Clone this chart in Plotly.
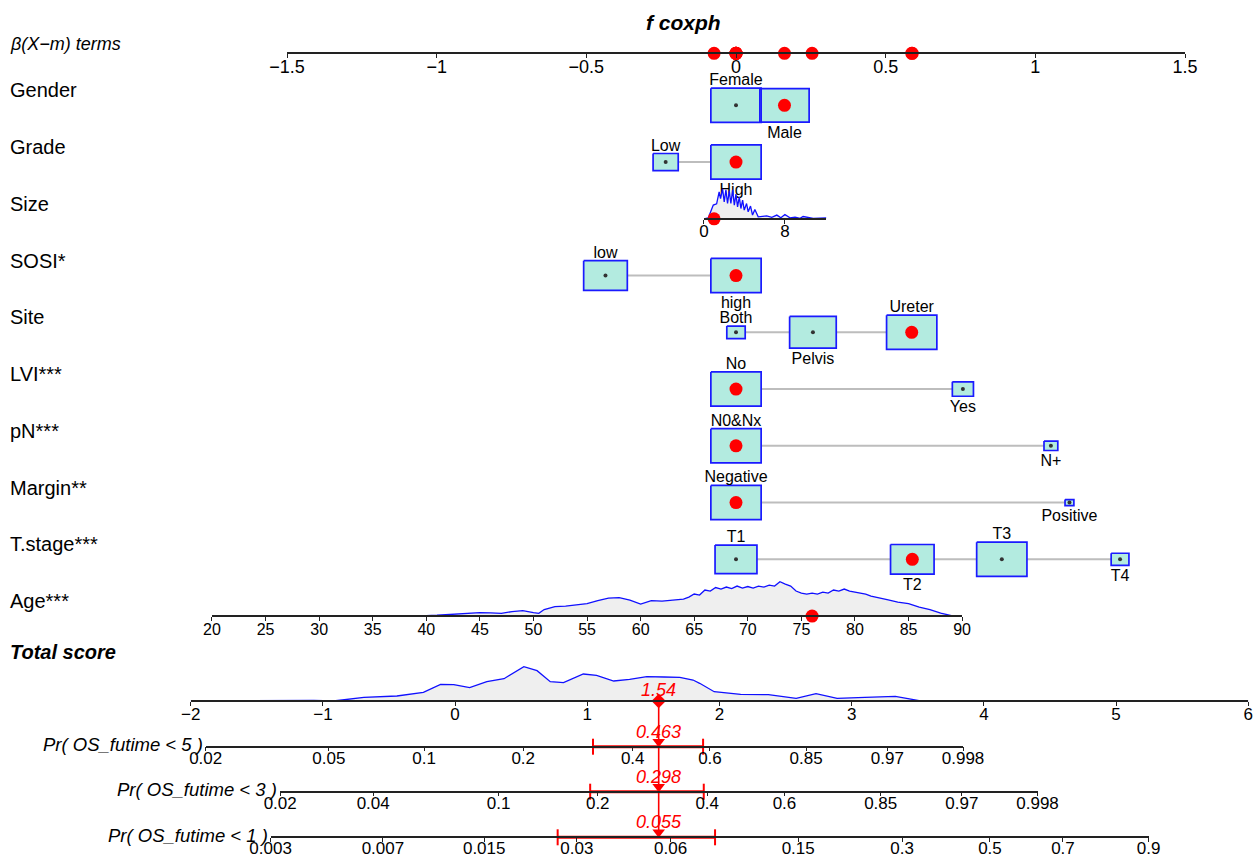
import numpy as np
import plotly.graph_objects as go

W, H = 1255, 858
FONT = "Arial, 'Liberation Sans', Helvetica, sans-serif"

# ---------------- data ----------------
beta_ticks = [-1.5, -1.0, -0.5, 0.0, 0.5, 1.0, 1.5]
beta_ticktext = ["\u22121.5", "\u22121", "\u22120.5", "0", "0.5", "1", "1.5"]

row_labels = ["Gender", "Grade", "Size", "SOSI*", "Site", "LVI***", "pN***",
              "Margin**", "T.stage***", "Age***"]

gender_levels = ["Female", "Male"]
gender_beta = [0.0, 0.162]
gender_freq = [51, 49]
gender_sel = 1

grade_levels = ["Low", "High"]
grade_beta = [-0.235, 0.0]
grade_freq = [20, 80]
grade_sel = 1

sosi_levels = ["low", "high"]
sosi_beta = [-0.436, 0.0]
sosi_freq = [43, 57]
sosi_sel = 1

site_levels = ["Both", "Pelvis", "Ureter"]
site_beta = [0.0, 0.257, 0.587]
site_freq = [6.7, 43, 50]
site_sel = 2

lvi_levels = ["No", "Yes"]
lvi_beta = [0.0, 0.758]
lvi_freq = [85, 15]
lvi_sel = 0

pn_levels = ["N0&Nx", "N+"]
pn_beta = [0.0, 1.052]
pn_freq = [93, 7]
pn_sel = 0

margin_levels = ["Negative", "Positive"]
margin_beta = [0.0, 1.114]
margin_freq = [97, 3]
margin_sel = 0

t_levels = ["T1", "T2", "T3", "T4"]
t_beta = [0.0, 0.589, 0.888, 1.283]
t_freq = [25, 27, 36, 4.5]
t_sel = 1

# Size (continuous)
size_ticks = [0, 8]
size_beta_at_zero = -0.107
size_beta_coef = 0.0338
size_max = 12.1
size_value = 1.0
size_dens_x = [0, 0.43, 0.92, 1.25, 1.5, 1.64, 1.84, 2.0, 2.17, 2.33, 2.5, 2.66, 2.83, 3.0,
               3.16, 3.32, 3.49, 3.65, 3.82, 3.98, 4.21, 4.37, 4.6, 4.8, 5.03, 5.36, 5.8,
               6.2, 6.7, 7.2, 7.6, 8.0, 8.5, 9.0, 9.5, 9.8, 10.8, 12.1]
size_dens_h = [0, 1, 13.7, 15, 27, 20.3, 30, 17, 29, 15.3, 28, 15.3, 29, 13.7,
               24.7, 12, 22, 10.3, 18.7, 8.7, 15.3, 7, 12.7, 3.7, 9.3, 2, 2.5,
               3, 1.5, 3.7, 1, 4.3, 1, 1.7, 0.5, 2.3, 0.5, 1]

# Age (continuous)
age_ticks = [20, 25, 30, 35, 40, 45, 50, 55, 60, 65, 70, 75, 80, 85, 90]
age_center = 68.9
age_beta_coef = 0.0358
age_value = 76
age_dens_x = [20, 22, 25, 28, 30, 35, 40, 41, 42, 43, 44, 45, 46, 47, 48, 49, 50, 50.5,
              51, 52, 53, 54, 55, 56, 57, 58, 59, 60, 61, 62, 63, 64, 64.5, 65, 65.5,
              66, 66.5, 67, 67.5, 68, 68.5, 69, 69.5, 70, 70.5, 71, 71.5, 72, 72.5, 73,
              73.5, 74, 74.5, 75, 75.5, 76, 76.5, 77, 77.5, 78, 78.5, 79, 79.5, 80, 80.5,
              81, 81.5, 82, 82.5, 83, 84, 85, 86, 87, 88, 89, 90]
age_dens_h = [0, 0.5, 0.3, 0.2, 0.5, 0.5, 0.5, 0.8, 1.5, 2.5, 3.3, 3.5, 3.2, 2.6, 4.5, 5.5, 3.5, 2.7,
              6.5, 9.5, 10, 11, 12.5, 15.5, 18, 18.5, 16, 12, 15.5, 15, 16, 17, 19, 22, 21,
              26, 25, 28.5, 27, 29, 27.5, 30, 28, 29.5, 28, 30, 29, 31, 30, 34.3,
              32, 30, 25, 23, 22, 23, 22, 24, 23, 26, 25, 27, 25, 24, 23,
              22, 20, 19, 17.5, 16.5, 14, 12.5, 9, 6.5, 3, 0.5, 0]

# Total score
score_ticks = [-2, -1, 0, 1, 2, 3, 4, 5, 6]
score_ticktext = ["\u22122", "\u22121", "0", "1", "2", "3", "4", "5", "6"]
total_score = 1.54
score_dens_x = [-2.0, -1.6, -1.25, -1.07, -0.92, -0.69, -0.44, -0.24, -0.11, -0.01, 0.11,
                0.24, 0.37, 0.52, 0.62, 0.72, 0.82, 0.97, 1.07, 1.20, 1.32, 1.45, 1.58, 1.70,
                1.80, 1.85, 1.96, 2.16, 2.37, 2.58, 2.73, 2.89, 3.10, 3.33, 3.51, 3.8, 4.13,
                4.4, 4.65, 5.2, 6.0]
score_dens_h = [0, 0.3, 1, 0.5, 0, 3.7, 5, 8.7, 16.7, 16.3, 13.3,
                19.3, 22.3, 34.3, 30.3, 19.3, 18.3, 27, 25.7, 20, 21.7, 24.3, 24, 23.7,
                21, 17.7, 9.3, 6.7, 6.3, 2.7, 7.3, 2.7, 3.7, 4.7, 0.3, 0.3, 0.7,
                0.3, 0, 0, 0]

# Probability scales
pr_labels = ["Pr( OS_futime < 5 )", "Pr( OS_futime < 3 )", "Pr( OS_futime < 1 )"]
pr_pred = [0.463, 0.298, 0.055]
pr_lo = [0.315, 0.190, 0.026]
pr_hi = [0.581, 0.392, 0.083]
pr5_ticks = [0.02, 0.05, 0.1, 0.2, 0.4, 0.6, 0.85, 0.97, 0.998]
pr3_ticks = [0.02, 0.04, 0.1, 0.2, 0.4, 0.6, 0.85, 0.97, 0.998]
pr1_ticks = [0.003, 0.007, 0.015, 0.03, 0.06, 0.15, 0.3, 0.5, 0.7, 0.9]

# ---------------- layout constants ----------------
BETA_PX = (287.0, 1185.0)
BETA_AXIS_Y = 53.3
ROW0_Y = 105.3
ROW_STEP = 56.75
SCORE_PX = (190.7, 1248.3)
SCORE_AXIS_Y = 701.0
PR_AXIS_Y = [746.7, 791.7, 837.3]
BOX_H = 34.2
BOX_ASPECT = 1.47
LABEL_GAP_ABOVE = 7
LABEL_GAP_BELOW = 11.5
BOX_FILL = "#b3ebe0"
BOX_LINE = "#1a1aff"
DENS_FILL = "#efefef"
DENS_LINE = "#1010ff"
RED = "#ff0000"
CLEAR = "rgba(0,0,0,0)"

PPB = (BETA_PX[1] - BETA_PX[0]) / (beta_ticks[-1] - beta_ticks[0])
PPS = (SCORE_PX[1] - SCORE_PX[0]) / (score_ticks[-1] - score_ticks[0])


def beta_px(b):
    return BETA_PX[0] + (b - beta_ticks[0]) * PPB


def score_px(s):
    return SCORE_PX[0] + (s - score_ticks[0]) * PPS


def row_y(i):
    return ROW0_Y + i * ROW_STEP


def size_beta(s):
    return size_beta_at_zero + size_beta_coef * s


def age_beta(a):
    return (a - age_center) * age_beta_coef


def axis(domain_px, rng, tickvals, ticktext, ypx, fs=16, standoff=-6):
    return dict(domain=[domain_px[0] / W, domain_px[1] / W], range=rng,
                anchor="free", position=1 - ypx / H, automargin=False,
                showline=True, linecolor="#222", linewidth=1.5,
                ticks="outside", ticklen=4, tickwidth=1.2, tickcolor="#222",
                ticklabelstandoff=standoff,
                tickvals=tickvals, ticktext=ticktext,
                tickfont=dict(family=FONT, size=fs, color="black"),
                showgrid=False, zeroline=False, fixedrange=True)


fig = go.Figure()

# ---------------- categorical rows ----------------
cat_rows = [
    (0, gender_levels, gender_beta, gender_freq, gender_sel),
    (1, grade_levels, grade_beta, grade_freq, grade_sel),
    (3, sosi_levels, sosi_beta, sosi_freq, sosi_sel),
    (4, site_levels, site_beta, site_freq, site_sel),
    (5, lvi_levels, lvi_beta, lvi_freq, lvi_sel),
    (6, pn_levels, pn_beta, pn_freq, pn_sel),
    (7, margin_levels, margin_beta, margin_freq, margin_sel),
    (8, t_levels, t_beta, t_freq, t_sel),
]
conn_x, conn_y = [], []
box_x, box_y = [], []
dot_x, dot_y = [], []
lab_x, lab_y, lab_t = [], [], []
sel_x, sel_y = [], []
contrib = []
for ri, levels, betas, freqs, sel in cat_rows:
    yc = row_y(ri)
    conn_x += [min(betas), max(betas), None]
    conn_y += [yc, yc, None]
    fmax = max(freqs)
    order = sorted(range(len(levels)), key=lambda i: betas[i])
    for k, i in enumerate(order):
        h = BOX_H * np.sqrt(freqs[i] / fmax)
        w = h * BOX_ASPECT / PPB
        b = betas[i]
        box_x += [b - w / 2, b + w / 2, b + w / 2, b - w / 2, b - w / 2, None]
        box_y += [yc - h / 2, yc - h / 2, yc + h / 2, yc + h / 2, yc - h / 2, None]
        dot_x.append(b)
        dot_y.append(yc)
        lab_x.append(b)
        lab_y.append(yc - h / 2 - LABEL_GAP_ABOVE if k % 2 == 0 else yc + h / 2 + LABEL_GAP_BELOW)
        lab_t.append(levels[i])
    sel_x.append(betas[sel])
    sel_y.append(yc)
    contrib.append(betas[sel])

fig.add_trace(go.Scatter(x=conn_x, y=conn_y, mode="lines", xaxis="x", yaxis="y",
                         line=dict(color="#bdbdbd", width=2), hoverinfo="skip"))
fig.add_trace(go.Scatter(x=box_x, y=box_y, mode="lines", fill="toself", fillcolor=BOX_FILL,
                         line=dict(color=BOX_LINE, width=1.7), xaxis="x", yaxis="y",
                         hoverinfo="skip"))
fig.add_trace(go.Scatter(x=dot_x, y=dot_y, mode="markers", xaxis="x", yaxis="y",
                         marker=dict(color="#333", size=4), hoverinfo="skip"))
fig.add_trace(go.Scatter(x=sel_x, y=sel_y, mode="markers", xaxis="x", yaxis="y",
                         marker=dict(color=RED, size=13), hoverinfo="skip"))
fig.add_trace(go.Scatter(x=lab_x, y=lab_y, mode="text", text=lab_t, xaxis="x", yaxis="y",
                         textposition="middle center", cliponaxis=False,
                         textfont=dict(family=FONT, size=16, color="black"), hoverinfo="skip"))

# ---------------- size row ----------------
ys = row_y(2)
fig.add_trace(go.Scatter(x=size_dens_x + size_dens_x[::-1],
                         y=[ys - v for v in size_dens_h] + [ys] * len(size_dens_x),
                         mode="none", fill="toself", fillcolor=DENS_FILL, xaxis="x2", yaxis="y",
                         hoverinfo="skip"))
fig.add_trace(go.Scatter(x=size_dens_x, y=[ys - v for v in size_dens_h], mode="lines",
                         line=dict(color=DENS_LINE, width=1.3), xaxis="x2", yaxis="y",
                         hoverinfo="skip"))
fig.add_trace(go.Scatter(x=[size_value], y=[ys], mode="markers", xaxis="x2", yaxis="y",
                         marker=dict(color=RED, size=13), cliponaxis=False, hoverinfo="skip"))
contrib.append(size_beta(size_value))

# ---------------- age row ----------------
ya = row_y(9)
fig.add_trace(go.Scatter(x=age_dens_x + age_dens_x[::-1],
                         y=[ya - v for v in age_dens_h] + [ya] * len(age_dens_x),
                         mode="none", fill="toself", fillcolor=DENS_FILL, xaxis="x3", yaxis="y",
                         hoverinfo="skip"))
fig.add_trace(go.Scatter(x=age_dens_x, y=[ya - v for v in age_dens_h], mode="lines",
                         line=dict(color=DENS_LINE, width=1.3), xaxis="x3", yaxis="y",
                         hoverinfo="skip"))
fig.add_trace(go.Scatter(x=[age_value], y=[ya], mode="markers", xaxis="x3", yaxis="y",
                         marker=dict(color=RED, size=13), cliponaxis=False, hoverinfo="skip"))
contrib.append(age_beta(age_value))

# ---------------- beta axis points ----------------
fig.add_trace(go.Scatter(x=contrib, y=[BETA_AXIS_Y] * len(contrib), mode="markers",
                         xaxis="x", yaxis="y", marker=dict(color=RED, size=13),
                         cliponaxis=False, hoverinfo="skip"))

# ---------------- total score ----------------
fig.add_trace(go.Scatter(x=score_dens_x + score_dens_x[::-1],
                         y=[SCORE_AXIS_Y - v for v in score_dens_h] + [SCORE_AXIS_Y] * len(score_dens_x),
                         mode="none", fill="toself", fillcolor=DENS_FILL, xaxis="x4", yaxis="y",
                         hoverinfo="skip"))
fig.add_trace(go.Scatter(x=score_dens_x, y=[SCORE_AXIS_Y - v for v in score_dens_h], mode="lines",
                         line=dict(color=DENS_LINE, width=1.3), xaxis="x4", yaxis="y",
                         hoverinfo="skip"))
fig.add_trace(go.Scatter(x=[total_score, total_score], y=[SCORE_AXIS_Y, PR_AXIS_Y[-1]],
                         mode="lines", line=dict(color=RED, width=1.6), xaxis="x4", yaxis="y",
                         hoverinfo="skip"))
fig.add_trace(go.Scatter(x=[total_score], y=[SCORE_AXIS_Y], mode="markers", xaxis="x4", yaxis="y",
                         marker=dict(color=RED, size=11, symbol="diamond"), cliponaxis=False,
                         hoverinfo="skip"))

annotations = []
annotations.append(dict(x=total_score, y=SCORE_AXIS_Y - 11, xref="x4", yref="y", text="<i>1.54</i>",
                        showarrow=False, font=dict(family=FONT, size=18, color=RED)))

# ---------------- probability rows ----------------
layout_axes = {}
pr_tick_sets = [pr5_ticks, pr3_ticks, pr1_ticks]
for j in range(3):
    ax_name = "x%d" % (5 + j)
    c = np.log(-np.log(1 - pr_pred[j])) - total_score

    def s_of(p, c=c):
        return float(np.log(-np.log(1 - p)) - c)

    ticks = pr_tick_sets[j]
    tv = [s_of(p) for p in ticks]
    tt = [("%g" % p) for p in ticks]
    ay = PR_AXIS_Y[j]
    layout_axes["xaxis%d" % (5 + j)] = axis((score_px(tv[0]), score_px(tv[-1])), [tv[0], tv[-1]],
                                             tv, tt, ay, fs=17, standoff=-8)
    lo, hi = s_of(pr_lo[j]), s_of(pr_hi[j])
    fig.add_trace(go.Scatter(x=[lo, hi], y=[ay, ay], mode="lines", xaxis=ax_name, yaxis="y",
                             line=dict(color=RED, width=3), cliponaxis=False, hoverinfo="skip"))
    fig.add_trace(go.Scatter(x=[lo, lo, None, hi, hi], y=[ay - 8, ay + 8, None, ay - 8, ay + 8],
                             mode="lines", xaxis=ax_name, yaxis="y", cliponaxis=False,
                             line=dict(color=RED, width=2), hoverinfo="skip"))
    fig.add_trace(go.Scatter(x=[total_score], y=[ay - 5], mode="markers", xaxis=ax_name, yaxis="y",
                             marker=dict(color=RED, size=11, symbol="triangle-down"),
                             cliponaxis=False, hoverinfo="skip"))
    annotations.append(dict(x=total_score, y=ay - 15, xref=ax_name, yref="y",
                            text="<i>%g</i>" % pr_pred[j], showarrow=False,
                            font=dict(family=FONT, size=18, color=RED)))
    annotations.append(dict(x=(score_px(tv[0]) - 1) / W, y=1 - (ay - 2) / H, xref="paper", yref="paper",
                            xanchor="right", yanchor="middle", text="<i>%s</i>" % pr_labels[j],
                            showarrow=False, font=dict(family=FONT, size=18.5, color="black")))

# ---------------- left labels / title ----------------
for i, lab in enumerate(row_labels):
    annotations.append(dict(x=8 / W, y=1 - (row_y(i) - 15) / H, xref="paper", yref="paper",
                            xanchor="left", yanchor="middle", text=lab, showarrow=False,
                            font=dict(family=FONT, size=20, color="black")))
annotations.append(dict(x=8 / W, y=1 - 44 / H, xref="paper", yref="paper", xanchor="left",
                        yanchor="middle", text="<i>\u03b2(X\u2212m) terms</i>", showarrow=False,
                        font=dict(family=FONT, size=18, color="black")))
annotations.append(dict(x=8 / W, y=1 - 652 / H, xref="paper", yref="paper", xanchor="left",
                        yanchor="middle", text="<b><i>Total score</i></b>", showarrow=False,
                        font=dict(family=FONT, size=20, color="black")))
annotations.append(dict(x=683 / W, y=1 - 22 / H, xref="paper", yref="paper", xanchor="center",
                        yanchor="middle", text="<b><i>f coxph</i></b>", showarrow=False,
                        font=dict(family=FONT, size=21, color="black")))

fig.update_layout(
    width=W, height=H, autosize=False,
    margin=dict(l=0, r=0, t=0, b=0, pad=0, autoexpand=False),
    paper_bgcolor="white", plot_bgcolor=CLEAR,
    showlegend=False,
    xaxis=axis(BETA_PX, [beta_ticks[0], beta_ticks[-1]], beta_ticks, beta_ticktext, BETA_AXIS_Y,
               fs=18, standoff=-7),
    xaxis2=axis((beta_px(size_beta(0)), beta_px(size_beta(size_max))), [0, size_max],
                size_ticks, [str(t) for t in size_ticks], row_y(2), fs=17, standoff=-7),
    xaxis3=axis((beta_px(age_beta(age_ticks[0])), beta_px(age_beta(age_ticks[-1]))),
                [age_ticks[0], age_ticks[-1]], age_ticks, [str(t) for t in age_ticks], row_y(9),
                fs=16, standoff=-5),
    xaxis4=axis(SCORE_PX, [score_ticks[0], score_ticks[-1]], score_ticks, score_ticktext,
                SCORE_AXIS_Y, fs=17, standoff=-6),
    yaxis=dict(domain=[0, 1], range=[H, 0], visible=False, showgrid=False, zeroline=False,
               fixedrange=True, automargin=False),
    annotations=annotations,
)
fig.update_layout(**layout_axes)

fig.write_html("out.html")
